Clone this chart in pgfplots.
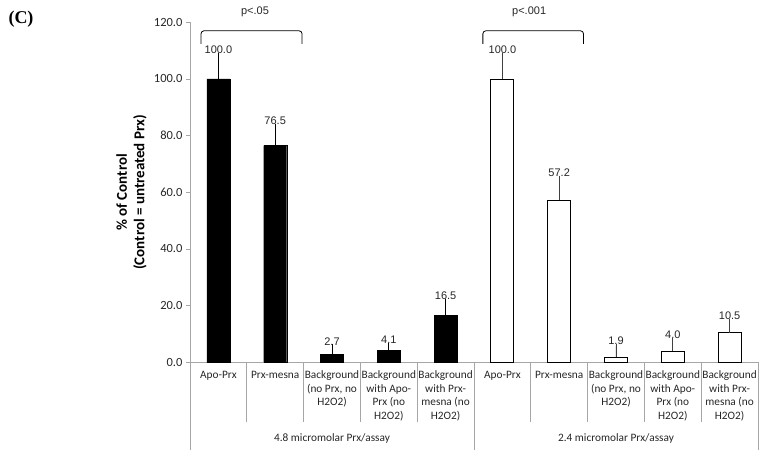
\documentclass[border=0pt]{standalone}
\usepackage{fontspec}
\setmainfont{Carlito}
\newfontfamily\arialf{Liberation Sans}
\newfontfamily\timesf{Liberation Serif}
\usepackage{pgfplots}
\pgfplotsset{compat=1.18}
\usepackage{pgfplotstable}

\pgfplotstableread{
x y err top
0 100.0 8.2 108.2
1 76.5 6.9 83.4
2 2.7 2.8 5.5
3 4.1 2.0 6.1
4 16.5 5.2 21.7
}\highdata
\pgfplotstableread{
x y err top
5 100.0 8.4 108.4
6 57.2 7.9 65.1
7 1.9 3.9 5.8
8 4.0 3.6 7.6
9 10.5 3.9 14.4
}\lowdata

\begin{document}
\begin{tikzpicture}
\path[use as bounding box] (0,0) rectangle (764pt,450pt);
\begin{axis}[
  at={(190pt,87.7pt)}, anchor=south west,
  scale only axis, width=568pt, height=340pt,
  xmin=-0.5, xmax=9.5, ymin=0, ymax=120,
  axis x line*=bottom, axis y line*=left,
  axis line style={black!35, line width=0.8pt},
  clip=false,
  /pgf/number format/assume math mode=true,
  ytick={0,20,...,120},
  yticklabel style={/pgf/number format/fixed, /pgf/number format/fixed zerofill, /pgf/number format/precision=1},
  y tick label style={font=\fontsize{12.5}{14}\selectfont, text=black!85},
  tick align=outside, major tick length=4pt,
  ytick style={black!35, line width=0.8pt},
  xtick={0,...,9},
  xticklabels={Apo-Prx, Prx-mesna, {Background\\(no Prx, no\\H2O2)}, {Background\\with Apo-\\Prx (no\\H2O2)}, {Background\\with Prx-\\mesna (no\\H2O2)},
               Apo-Prx, Prx-mesna, {Background\\(no Prx, no\\H2O2)}, {Background\\with Apo-\\Prx (no\\H2O2)}, {Background\\with Prx-\\mesna (no\\H2O2)}},
  xtick style={draw=none},
  x tick label style={font=\fontsize{11.3}{13.5}\selectfont, align=center, anchor=north, yshift=-1pt, text=black!85},
  ylabel={\% of Control\\(Control = untreated Prx)},
  ylabel style={font=\bfseries\fontsize{15}{17.5}\selectfont, align=center, at={(axis description cs:-0.103,0.5)}, anchor=center},
]
\addplot[ybar, bar width=23pt, bar shift=0pt, fill=black, draw=black,
  error bars/.cd, y dir=plus, y explicit,
  error bar style={black, line width=0.8pt},
  error mark options={black, mark size=2.3pt, line width=0.8pt}]
  table[x=x, y=y, y error=err]{\highdata};
\addplot[ybar, bar width=23pt, bar shift=0pt, fill=white, draw=black, line width=0.8pt,
  error bars/.cd, y dir=plus, y explicit,
  error bar style={black!75, line width=0.8pt},
  error mark options={black!75, mark size=2.3pt, line width=0.8pt}]
  table[x=x, y=y, y error=err]{\lowdata};
\addplot[draw=none, mark=none, point meta=explicit,
  nodes near coords={\pgfmathprintnumber[fixed, fixed zerofill, precision=1]{\pgfplotspointmeta}},
  nodes near coords style={font=\arialf\fontsize{11}{12}\selectfont, text=black!85, anchor=south, inner sep=1.5pt}]
  table[x=x, y=top, meta=y]{\highdata};
\addplot[draw=none, mark=none, point meta=explicit,
  nodes near coords={\pgfmathprintnumber[fixed, fixed zerofill, precision=1]{\pgfplotspointmeta}},
  nodes near coords style={font=\arialf\fontsize{11}{12}\selectfont, text=black!85, anchor=south, inner sep=1.5pt}]
  table[x=x, y=top, meta=y]{\lowdata};
% separators
\pgfplotsinvokeforeach{0.5,1.5,2.5,3.5,5.5,6.5,7.5,8.5}{
  \draw[black!35, line width=0.8pt] (axis cs:#1,0) -- ([yshift=-60pt]axis cs:#1,0);
}
\pgfplotsinvokeforeach{-0.5,4.5,9.5}{
  \draw[black!35, line width=0.8pt] (axis cs:#1,0) -- ([yshift=-88pt]axis cs:#1,0);
}
\node[font=\fontsize{11.3}{13.5}\selectfont, text=black!85, anchor=base] at ([yshift=-79pt]axis cs:2,0) {4.8 micromolar Prx/assay};
\node[font=\fontsize{11.3}{13.5}\selectfont, text=black!85, anchor=base] at ([yshift=-79pt]axis cs:7,0) {2.4 micromolar Prx/assay};
% significance brackets
\draw[black, line width=0.8pt, rounded corners=3pt] (axis cs:-0.306,112.4) -- (axis cs:-0.306,117) -- (axis cs:1.473,117) -- (axis cs:1.473,112.4);
\draw[black, line width=0.8pt, rounded corners=3pt] (axis cs:4.656,112.4) -- (axis cs:4.656,117) -- (axis cs:6.428,117) -- (axis cs:6.428,112.4);
\node[font=\arialf\fontsize{11}{12}\selectfont, text=black!85] at (axis cs:0.645,123.75) {p<.05};
\node[font=\arialf\fontsize{11}{12}\selectfont, text=black!85] at (axis cs:5.471,123.75) {p<.001};
\end{axis}
\node[font=\timesf\bfseries\fontsize{18}{20}\selectfont] at (21pt,431pt) {(C)};
\end{tikzpicture}
\end{document}
